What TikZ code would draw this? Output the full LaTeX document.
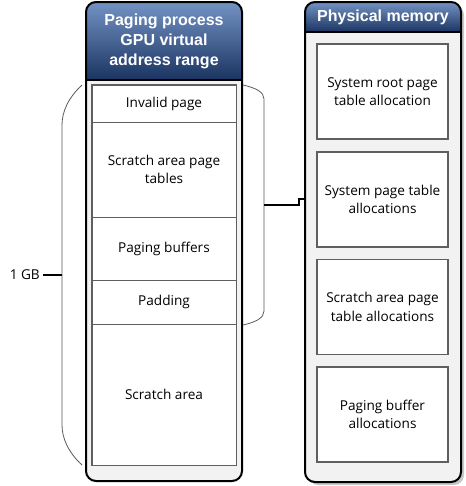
\documentclass[tikz,border=0pt]{standalone}
\usepackage{fontspec}
\setmainfont{Open Sans}
\newfontfamily\headfont{Liberation Sans}
\usetikzlibrary{calc}

\definecolor{headtop}{HTML}{7393C4}
\definecolor{headbot}{HTML}{1B3461}
\definecolor{bodygray}{HTML}{F2F2F2}
\definecolor{rowline}{HTML}{5F5F5F}

\begin{document}
\begin{tikzpicture}[x = 0.75pt, y = -0.75pt,
		row/.style = {draw = rowline, line width = 0.7pt, fill = white, minimum width = 108pt,
			inner sep = 0pt, align = center, font = \fontsize{10.2}{14}\selectfont},
		alloc/.style = {draw = rowline, line width = 1.3pt, fill = white, minimum width = 98.25pt,
			minimum height = 71.25pt, inner sep = 0pt, align = center, font = \fontsize{10.2}{14}\selectfont},
		head/.style = {text = white, align = center, font = \headfont\bfseries\fontsize{12}{15}\selectfont},
		brace/.style = {draw = black!65, line width = 0.6pt}]
		\def\w{156};
		\def\rad{7.5pt};
		
		\useasboundingbox (0,0) rectangle (465,486);
		
		\fill [black!22, rounded corners = \rad] (308,5) rectangle (464,485);
		
		\foreach \x/\b/\h in {86/481/80, 305/482/32} {
			\begin{scope}
			\clip [rounded corners = \rad] (\x,2) rectangle ({\x + \w},\b);
			\fill [bodygray] (\x,2) rectangle ({\x + \w},\b);
			\shade [top color = headtop, bottom color = headbot] (\x,2) rectangle ({\x + \w},\h);
			\end{scope}
			\draw [line width = 1.1pt] (\x,\h) -- ({\x + \w},\h);
			\draw [line width = 1.5pt, rounded corners = \rad] (\x,2) rectangle ({\x + \w},\b);
		}
		
		\node [head] (pagehead) at (164,41) {Paging process\\GPU virtual\\address range};
		\node [head] (physhead) at (383,17) {Physical memory};
		
		\draw [draw = rowline, line width = 1.1pt] (92,85) rectangle (236,465);
		\node [row, minimum height = 27.75pt] (invalid) at (164,103.5) {Invalid page};
		\node [row, minimum height = 71.25pt] (tables) at (164,169.5) {Scratch area page\\tables};
		\node [row, minimum height = 47.25pt] (buffers) at (164,248.5) {Paging buffers};
		\node [row, minimum height = 33pt] (padding) at (164,302) {Padding};
		\node [row, minimum height = 105.75pt] (scratch) at (164,394.5) {Scratch area};
		
		\node [alloc] (rootalloc) at (382.5,91.5) {System root page\\table allocation};
		\node [alloc] (sysalloc) at (382.5,199.5) {System page table\\allocations};
		\node [alloc] (scratchalloc) at (382.5,307) {Scratch area page\\table allocations};
		\node [alloc] (bufalloc) at (382.5,414.5) {Paging buffer\\allocations};
		
		\coordinate (ltip) at (62,275);
		\coordinate (rtip) at (264,205);
		\coordinate (physedge) at (305,199);
		
		\draw [brace] (82,85) .. controls (68,98) and (62,112) .. (62,125) -- (62,425)
			.. controls (62,438) and (68,452) .. (82,465);
		\draw [brace] (243,85) .. controls (256,88) and (264,92) .. (264,99) -- (264,311)
			.. controls (264,318) and (256,322) .. (243,325);
		
		\draw [line width = 0.8pt] (ltip) -- ++(-19,0) node [left, inner sep = 2pt, font = \fontsize{10.2}{12}\selectfont] (gb) {1 GB};
		\draw [line width = 0.8pt] (rtip) -- ++(35,0) |- (physedge);
	\end{tikzpicture}
\end{document}
